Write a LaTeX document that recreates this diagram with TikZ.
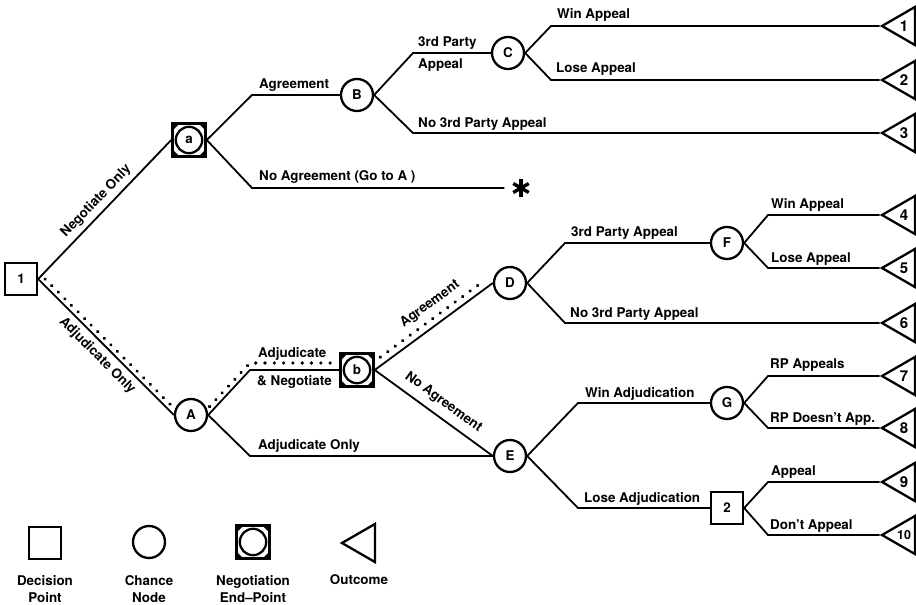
\documentclass[tikz,border=0pt]{standalone}
\usepackage{fontspec}
\setmainfont{TeX Gyre Heros}
\usetikzlibrary{calc,shapes.geometric,decorations.markings}
\newcommand{\lblfont}{\fontsize{13.4}{17}\selectfont\bfseries}
\newcommand{\numfont}{\fontsize{15}{15}\selectfont\bfseries}
\begin{document}
\begin{tikzpicture}[x=1pt,y=-1pt,
 conn/.style={line width=1.8pt},
 chance/.style={circle,draw,line width=2.3pt,minimum size=32pt,inner sep=0pt,font=\lblfont},
 decision/.style={rectangle,draw,line width=2.3pt,minimum size=32pt,inner sep=0pt,font=\lblfont},
 negbox/.style={rectangle,draw,line width=2.5pt,minimum size=33pt,inner sep=0pt,font=\lblfont,
   path picture={
     \coordinate (pc) at (path picture bounding box.center);
     \fill[black] ($(pc)+(-17pt,17pt)$) -- ++(8pt,0pt) -- ++(-8pt,-8pt) -- cycle;
     \fill[black] ($(pc)+(17pt,17pt)$) -- ++(-8pt,0pt) -- ++(8pt,-8pt) -- cycle;
     \fill[black] ($(pc)+(-17pt,-17pt)$) -- ++(8pt,0pt) -- ++(-8pt,8pt) -- cycle;
     \fill[black] ($(pc)+(17pt,-17pt)$) -- ++(-8pt,0pt) -- ++(8pt,8pt) -- cycle;
     \draw[line width=2.3pt] (pc) circle[radius=13.2pt];
   }},
 outcome/.style={regular polygon,regular polygon sides=3,shape border rotate=90,draw,line width=2.3pt,minimum size=44pt,inner sep=0pt,font=\numfont},
 lbl/.style={font=\lblfont,inner sep=0pt,anchor=base west},
 slbl/.style={font=\lblfont,inner sep=0pt,sloped},
 legtxt/.style={font=\lblfont,inner sep=0pt,align=center,anchor=base},
 dotpath/.style={postaction={decorate,decoration={markings,
   mark=between positions 0 and 1 step 9.3pt with {\fill[black] (0pt,0pt) circle[radius=1.8pt];}}}},
 astk/.style={circle,inner sep=0pt,minimum size=19pt,
   path picture={
     \coordinate (ac) at (path picture bounding box.center);
     \draw[line width=3.4pt] ($(ac)+(90:9pt)$) -- ($(ac)+(270:9pt)$);
     \draw[line width=3.4pt] ($(ac)+(30:9pt)$) -- ($(ac)+(210:9pt)$);
     \draw[line width=3.4pt] ($(ac)+(150:9pt)$) -- ($(ac)+(330:9pt)$);
   }},
]
\useasboundingbox (0,0) rectangle (916,605);

% nodes
\node[decision] (n1) at (21,279) {1};
\node[negbox] (a) at (189,140) {a};
\node[chance] (B) at (357,95) {B};
\node[chance] (C) at (508,53) {C};
\node[chance] (A) at (191,415) {A};
\node[negbox] (b) at (357,370) {b};
\node[chance] (D) at (510,283) {D};
\node[chance] (E) at (510,456) {E};
\node[chance] (F) at (727,243) {F};
\node[chance] (G) at (727,403) {G};
\node[decision] (n2) at (727,508) {2};
\node[astk] (ast) at (521,188) {};

\node[outcome] (t1) at (904,26) {1};
\node[outcome] (t2) at (904,80) {2};
\node[outcome] (t3) at (904,133) {3};
\node[outcome] (t4) at (904,215) {4};
\node[outcome] (t5) at (904,268) {5};
\node[outcome] (t6) at (904,323) {6};
\node[outcome] (t7) at (904,376) {7};
\node[outcome] (t8) at (904,428) {8};
\node[outcome] (t9) at (904,482) {9};
\node[outcome] (t10) at (904,535) {\fontsize{12.5}{12}\selectfont 10};

% corners
\coordinate (aU) at (252,95);
\coordinate (aD) at (252,188);
\coordinate (BU) at (413,53);
\coordinate (BD) at (413,133);
\coordinate (CU) at (551,26);
\coordinate (CD) at (551,80);
\coordinate (AU) at (250,370);
\coordinate (AD) at (250,456);
\coordinate (DU) at (565,243);
\coordinate (DD) at (565,323);
\coordinate (FU) at (768,215);
\coordinate (FD) at (768,268);
\coordinate (EU) at (578,403);
\coordinate (ED) at (578,508);
\coordinate (GU) at (768,376);
\coordinate (GD) at (768,428);
\coordinate (PU) at (768,482);
\coordinate (PD) at (768,535);

% connectors
\draw[conn] (n1.east) -- node[slbl,above=4.5pt] {Negotiate Only} (a.west);
\draw[conn] (n1.east) -- node[slbl,below=5pt] {Adjudicate Only} (A.west);
\draw[conn] (a.east) -- (aU) -- (B.west);
\draw[conn,shorten >=7pt] (a.east) -- (aD) -- (ast.west);
\draw[conn] (B.east) -- (BU) -- (C.west);
\draw[conn] (B.east) -- (BD) -- (t3);
\draw[conn] (C.east) -- (CU) -- (t1);
\draw[conn] (C.east) -- (CD) -- (t2);
\draw[conn] (A.east) -- (AU) -- (b.west);
\draw[conn] (A.east) -- (AD) -- (E.west);
\draw[conn] (b.east) -- node[slbl,above=13pt,pos=0.57] {Agreement} (D.west);
\draw[conn] (b.east) -- node[slbl,above=7pt,pos=0.51] {No Agreement} (E.west);
\draw[conn] (D.east) -- (DU) -- (F.west);
\draw[conn] (D.east) -- (DD) -- (t6);
\draw[conn] (F.east) -- (FU) -- (t4);
\draw[conn] (F.east) -- (FD) -- (t5);
\draw[conn] (E.east) -- (EU) -- (G.west);
\draw[conn] (E.east) -- (ED) -- (n2.west);
\draw[conn] (G.east) -- (GU) -- (t7);
\draw[conn] (G.east) -- (GD) -- (t8);
\draw[conn] (n2.east) -- (PU) -- (t9);
\draw[conn] (n2.east) -- (PD) -- (t10);

% dotted path (highlighted route)
\path[dotpath] ($(n1.east)!5pt!(A.west) + (3.5,-3.5)$) -- ($(A.west)!8pt!(n1.east) + (3.5,-3.5)$);
\path[dotpath] ($(A.east)!2pt!(AU) + (0,-7)$) -- ($(AU)+(0,-7)$) -- ($(b.west)+(-6,-7)$);
\path[dotpath] ($(b.east)!12pt!(D.west) + (-4.1,-5.7)$) -- ($(D.west)!5pt!(b.east) + (-4.1,-5.7)$);

% horizontal labels
\node[lbl] at ($(aU)+(7,-7)$) {Agreement};
\node[lbl] at ($(aD)+(7,-8)$) {No Agreement (Go to A )};
\node[lbl] at ($(BU)+(5,-7)$) {3rd Party};
\node[lbl] at ($(BU)+(5,15)$) {Appeal};
\node[lbl] at ($(BD)+(5,-6)$) {No 3rd Party Appeal};
\node[lbl] at ($(CU)+(6,-8)$) {Win Appeal};
\node[lbl] at ($(CD)+(5,-8)$) {Lose Appeal};
\node[lbl] at ($(AU)+(8,-13)$) {Adjudicate};
\node[lbl] at ($(AU)+(7,15)$) {\& Negotiate};
\node[lbl] at ($(AD)+(8,-7)$) {Adjudicate Only};
\node[lbl] at ($(DU)+(6,-7)$) {3rd Party Appeal};
\node[lbl] at ($(DD)+(5,-6)$) {No 3rd Party Appeal};
\node[lbl] at ($(FU)+(3,-7)$) {Win Appeal};
\node[lbl] at ($(FD)+(3,-6)$) {Lose Appeal};
\node[lbl] at ($(EU)+(7,-6)$) {Win Adjudication};
\node[lbl] at ($(ED)+(6,-6)$) {Lose Adjudication};
\node[lbl] at ($(GU)+(2,-8)$) {RP Appeals};
\node[lbl] at ($(GD)+(2,-6)$) {RP Doesn't App.};
\node[lbl] at ($(PU)+(3,-7)$) {Appeal};
\node[lbl] at ($(PD)+(2,-6)$) {Don't Appeal};

% legend
\node[decision] (lg1) at (45,543) {};
\node[chance] (lg2) at (149,542) {};
\node[negbox] (lg3) at (253,542) {};
\node[outcome] (lg4) at (364,543) {};
\node[legtxt] (lt1) at (45,602) {Decision\\Point};
\node[legtxt] (lt2) at (149,602) {Chance\\Node};
\node[legtxt] (lt3) at (253,602) {Negotiation\\End–Point};
\node[legtxt] (lt4) at (359,584) {Outcome};
\end{tikzpicture}
\end{document}
